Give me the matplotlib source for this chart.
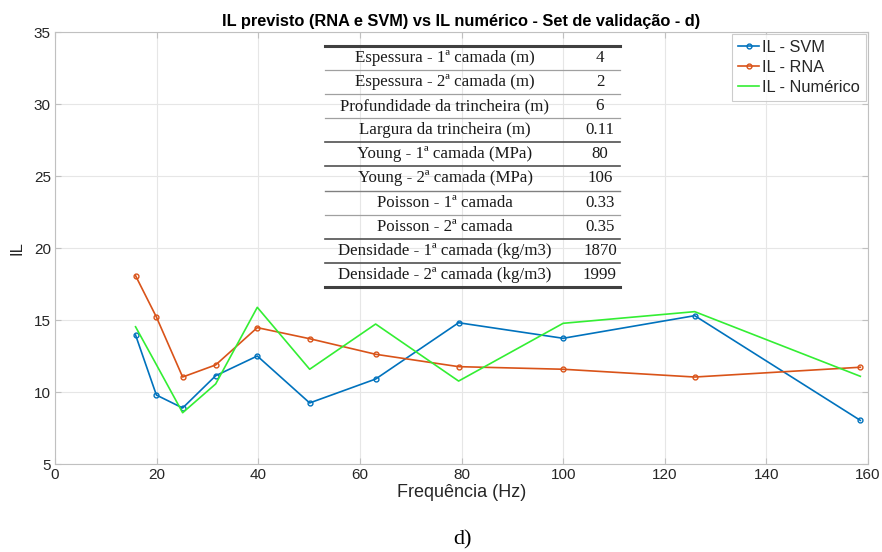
import numpy as np
import matplotlib
matplotlib.use("Agg")
import matplotlib.pyplot as plt
from matplotlib.lines import Line2D

freq = [15.85, 19.95, 25.12, 31.62, 39.81, 50.12, 63.10, 79.43, 100.0, 125.89, 158.49]
il_svm = [13.96, 9.79, 8.89, 11.13, 12.50, 9.24, 10.90, 14.81, 13.73, 15.30, 8.03]
il_rna = [18.08, 15.21, 11.04, 11.88, 14.47, 13.70, 12.62, 11.76, 11.58, 11.04, 11.72]
il_num = [14.53, 11.90, 8.56, 10.56, 15.88, 11.58, 14.72, 10.76, 14.77, 15.58, 11.09]

table_labels = ["Espessura - 1ª camada (m)", "Espessura - 2ª camada (m)",
                "Profundidade da trincheira (m)", "Largura da trincheira (m)",
                "Young - 1ª camada (MPa)", "Young - 2ª camada (MPa)",
                "Poisson - 1ª camada", "Poisson - 2ª camada",
                "Densidade - 1ª camada (kg/m3)", "Densidade - 2ª camada (kg/m3)"]
table_values = ["4", "2", "6", "0.11", "80", "106", "0.33", "0.35", "1870", "1999"]

W, H = 882, 552
fig = plt.figure(figsize=(W / 100, H / 100), dpi=100)
ax = fig.add_axes([55 / W, 1 - 464 / H, (868 - 55) / W, (464 - 32) / H])

tc = '#262626'
sans = 'Liberation Sans'
ax.plot(freq, il_svm, '-o', color='#0072BD', lw=1.2, ms=3.5, mfc='none', mew=1.0, label='IL - SVM')
ax.plot(freq, il_rna, '-o', color='#D95319', lw=1.2, ms=3.5, mfc='none', mew=1.0, label='IL - RNA')
ax.plot(freq, il_num, '-', color='#33ee33', lw=1.2, label='IL - Numérico')

ax.set_xlim(0, 160)
ax.set_ylim(5, 35)
ax.set_xticks(np.arange(0, 161, 20))
ax.set_yticks(np.arange(5, 36, 5))
ax.grid(True, color='#e6e6e6', lw=0.8)
ax.set_axisbelow(True)
for s in ax.spines.values():
    s.set_color('#c0c0c0')
    s.set_linewidth(0.8)
ax.tick_params(direction='in', colors='#c0c0c0', labelcolor=tc, labelsize=11,
               top=True, right=True, length=4, pad=3)
for lab in ax.get_xticklabels() + ax.get_yticklabels():
    lab.set_fontfamily(sans)
ax.set_xlabel('Frequência (Hz)', fontsize=13, color=tc, family=sans, labelpad=1)
ax.set_ylabel('IL', fontsize=12, color=tc, family=sans, labelpad=7)
ax.set_title('IL previsto (RNA e SVM) vs IL numérico - Set de validação - d)',
             fontsize=11.8, fontweight='bold', color='black', family=sans, pad=4)

leg = ax.legend(loc='upper right', prop={'family': sans, 'size': 11.8}, frameon=True,
                fancybox=False, edgecolor='#c0c0c0', handlelength=1.3, handletextpad=0.15,
                borderpad=0.35, labelspacing=0.3, borderaxespad=0.15)
leg.get_frame().set_linewidth(0.8)
for t in leg.get_texts():
    t.set_color(tc)

# table drawn in figure pixel coordinates
def fx(x):
    return x / W

def fy(y):
    return 1 - y / H

x0, x1 = 325, 620
row_h = 24.1
y_first = 58
lab_cx = 445
val_cx = 600
for i, (lab, val) in enumerate(zip(table_labels, table_values)):
    yc = y_first + i * row_h
    fig.text(fx(lab_cx), fy(yc), lab, ha='center', va='center', fontsize=12.2,
             family='Liberation Serif', color='#1a1a1a')
    fig.text(fx(val_cx), fy(yc), val, ha='center', va='center', fontsize=12.2,
             family='Liberation Serif', color='#1a1a1a')

lines_y = [y_first - row_h / 2 + k * row_h for k in range(11)]
styles = {0: ('#404040', 2.2), 10: ('#404040', 2.2), 4: ('#505050', 1.2), 5: ('#505050', 1.2),
          6: ('#808080', 1.0), 9: ('#505050', 1.2), 8: ('#505050', 1.2)}
for k, yy in enumerate(lines_y):
    c, lw = styles.get(k, ('#a0a0a0', 0.9))
    fig.add_artist(Line2D([fx(x0), fx(x1)], [fy(yy), fy(yy)], color=c, lw=lw))

fig.text(fx(462), fy(540), 'd)', ha='center', va='center', fontsize=16,
         family='Liberation Serif', color='black')

fig.savefig('out.png', dpi=100)
